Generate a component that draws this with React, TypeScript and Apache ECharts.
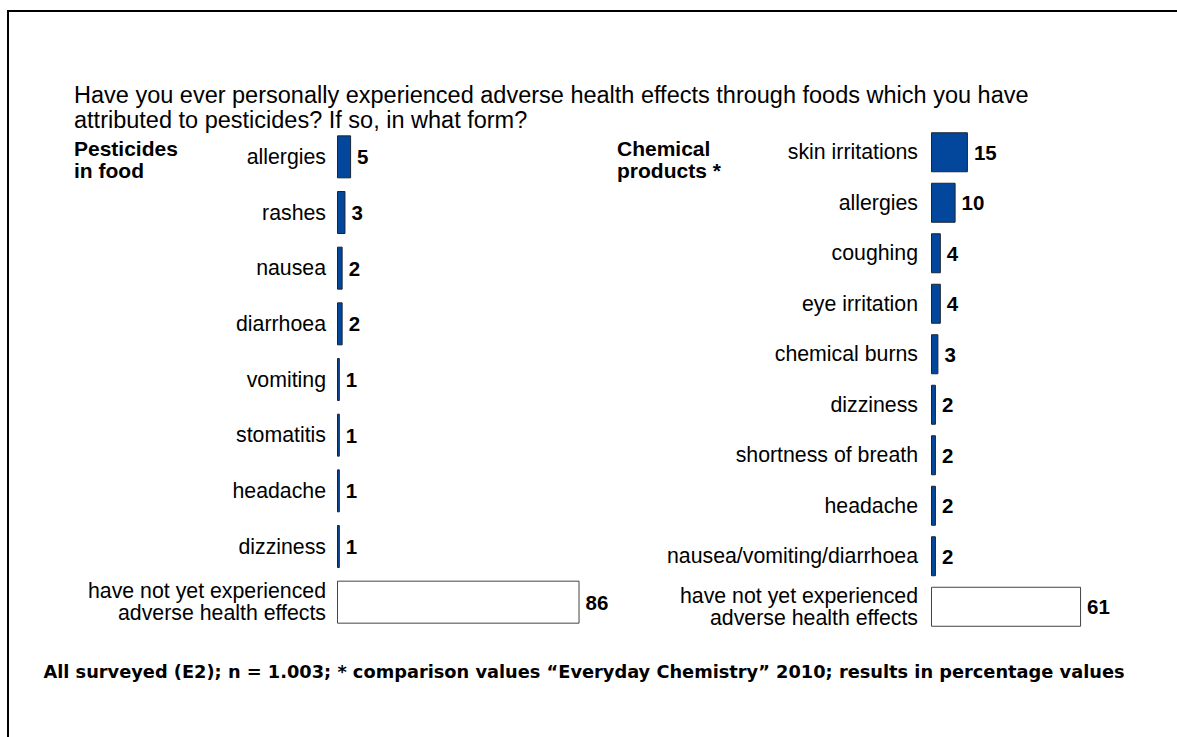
import React, { useEffect, useRef } from "react";
import * as echarts from "echarts";

const titleText =
  "Have you ever personally experienced adverse health effects through foods which you have\nattributed to pesticides? If so, in what form?";
const leftHeading = "Pesticides\nin food";
const rightHeading = "Chemical\nproducts *";
const footnote =
  "All surveyed (E2); n = 1.003; * comparison values \u201cEveryday Chemistry\u201d 2010; results in percentage values";

const foodCategories = [
  "allergies",
  "rashes",
  "nausea",
  "diarrhoea",
  "vomiting",
  "stomatitis",
  "headache",
  "dizziness",
  "have not yet experienced\nadverse health effects",
];
const foodValues = [5, 3, 2, 2, 1, 1, 1, 1, 86];

const chemCategories = [
  "skin irritations",
  "allergies",
  "coughing",
  "eye irritation",
  "chemical burns",
  "dizziness",
  "shortness of breath",
  "headache",
  "nausea/vomiting/diarrhoea",
  "have not yet experienced\nadverse health effects",
];
const chemValues = [15, 10, 4, 4, 3, 2, 2, 2, 2, 61];

const FONT = "'Liberation Sans', Arial, sans-serif";
const BLUE = "#03479d";

function toItems(values: number[]) {
  return values.map((v, i) =>
    i === values.length - 1
      ? { value: v, itemStyle: { color: "#ffffff", borderColor: "#444", borderWidth: 1 } }
      : { value: v }
  );
}

export default function App() {
  const ref = useRef<HTMLDivElement>(null);
  useEffect(() => {
    if (!ref.current) return;
    const chart = echarts.init(ref.current, null, { renderer: "svg" });
    const catAxis = (cats: string[], gridIndex: number, margin: number) => ({
      type: "category" as const,
      gridIndex,
      data: cats,
      inverse: true,
      axisLine: { show: false },
      axisTick: { show: false },
      splitLine: { show: false },
      axisLabel: {
        color: "#000",
        fontSize: 21.3,
        fontFamily: FONT,
        lineHeight: 22,
        margin,
        align: "right" as const,
      },
    });
    const valAxis = (gridIndex: number) => ({
      type: "value" as const,
      gridIndex,
      min: 0,
      max: 100,
      show: false,
    });
    const barLabel = {
      show: true,
      position: "right" as const,
      distance: 6,
      color: "#000",
      fontSize: 20.5,
      fontWeight: "bold" as const,
      fontFamily: FONT,
    };
    chart.setOption({
      animation: false,
      backgroundColor: "#ffffff",
      grid: [
        { left: 337, top: 129, width: 282, height: 501 },
        { left: 931, top: 127, width: 253, height: 505 },
      ],
      xAxis: [valAxis(0), valAxis(1)],
      yAxis: [catAxis(foodCategories, 0, 11), catAxis(chemCategories, 1, 13)],
      series: [
        {
          type: "bar",
          xAxisIndex: 0,
          yAxisIndex: 0,
          barWidth: 43,
          data: toItems(foodValues),
          itemStyle: { color: BLUE, borderColor: "#1b2433", borderWidth: 1 },
          label: barLabel,
        },
        {
          type: "bar",
          xAxisIndex: 1,
          yAxisIndex: 1,
          barWidth: 40,
          data: toItems(chemValues),
          itemStyle: { color: BLUE, borderColor: "#1b2433", borderWidth: 1 },
          label: barLabel,
        },
      ],
      graphic: [
        {
          type: "line",
          shape: { x1: 7, y1: 11, x2: 1177, y2: 11 },
          style: { stroke: "#000", lineWidth: 2 },
        },
        {
          type: "line",
          shape: { x1: 8, y1: 10, x2: 8, y2: 737 },
          style: { stroke: "#000", lineWidth: 2 },
        },
        {
          type: "text",
          left: 74,
          top: 82,
          style: {
            text: titleText,
            fill: "#000",
            font: `23.5px ${FONT}`,
            lineHeight: 25,
          },
        },
        {
          type: "text",
          left: 74,
          top: 137,
          style: {
            text: leftHeading,
            fill: "#000",
            font: `bold 21px ${FONT}`,
            lineHeight: 22,
          },
        },
        {
          type: "text",
          left: 617,
          top: 137,
          style: {
            text: rightHeading,
            fill: "#000",
            font: `bold 21px ${FONT}`,
            lineHeight: 22,
          },
        },
        {
          type: "text",
          x: 584,
          y: 671,
          style: {
            text: footnote,
            fill: "#000",
            font: `bold 17.8px 'DejaVu Sans', sans-serif`,
            align: "center",
            verticalAlign: "middle",
          },
        },
      ],
    });
    return () => chart.dispose();
  }, []);
  return (
    <div
      ref={ref}
      style={{ position: "fixed", left: 0, top: 0, width: 1177, height: 737 }}
    />
  );
}
